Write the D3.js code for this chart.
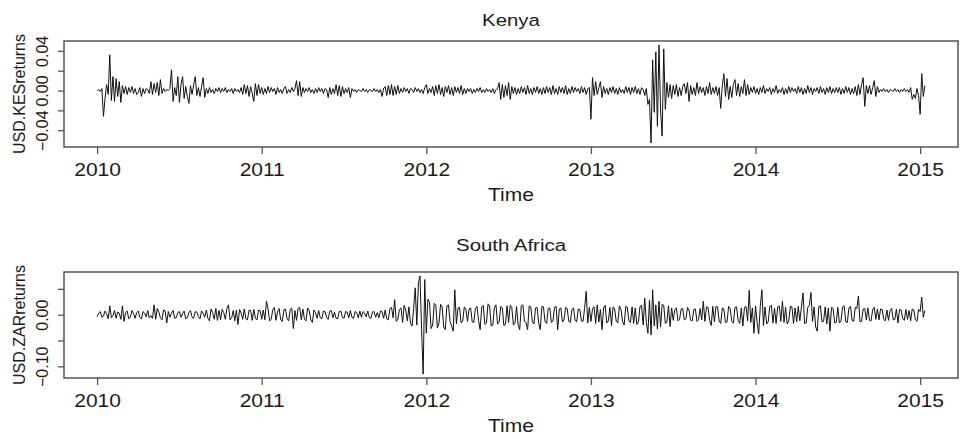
<!DOCTYPE html>
<html>
<head>
<meta charset="utf-8">
<script src="https://cdn.jsdelivr.net/npm/d3@7"></script>
<style>
  body { margin: 0; background: #fff; }
  svg { display: block; }
  text { font-family: "Liberation Sans", Arial, Helvetica, sans-serif; fill: #1a1a1a; }
</style>
</head>
<body>
<svg id="chart" width="968" height="439"></svg>
<script>
// time series: start 2010, 104 observations per year
const startYear = 2010;
const frequency = 104;

const yearTicks = [2010, 2011, 2012, 2013, 2014, 2015];
const yearLabels = ["2010", "2011", "2012", "2013", "2014", "2015"];

// returns, in thousandths (0.001)
const kenyaReturns = [
  0, 1, -1, 2, -26, -8, 6, -4, 36, -10, 14, -11, 12, -6, 9, -12, 5, -3, 4, -4, 3, -2, 4, -3, 2, -4,
  -2, 3, -6, 2, -3, 2, 1, -3, 9, -4, 7, -2, 8, -5, 11, -3, 2, -1, 1, 0, 2, 21, -11, 3, -5, 14,
  -12, 6, 14, -8, 4, -6, -13, 5, -4, 6, 14, -5, 3, -6, 4, 13, -7, 2, -3, 3, -2, 1, -3, 2, -1, 3,
  -2, 2, -1, 3, -2, 1, -1, 2, -3, 2, -1, 1, -2, 3, -4, 6, -3, 5, -6, 4, -3, -11, 7, -5, 6, -3,
  3, -4, 2, -3, 4, -2, 3, -1, 2, -4, 3, -2, 1, -3, 2, 4, -3, 1, -2, 3, -1, 2, 10, -5, 9, -6,
  3, -2, 2, -1, 3, -2, 1, -3, 2, -2, 3, -1, 2, -3, 2, 1, -7, 3, -4, 2, -3, 6, -5, 5, -6, 4,
  -3, 2, -2, 3, -7, 2, -1, 1, -2, 1, 0, -1, 2, -1, 1, -2, 1, 0, -1, 2, -1, 1, -2, 1, -6, 2,
  4, -5, 5, -4, 6, -5, 4, -4, 5, -3, 2, -2, 3, -1, 2, -3, 2, 1, -2, 3, -1, 2, -2, 1, -3, 3,
  6, -3, 2, -2, 4, -5, 5, -3, 6, -4, 3, -6, 4, -2, 5, -4, 3, -5, 4, -2, 3, -3, 5, -4, 2, -3,
  2, -1, 2, -3, 1, -2, 2, -1, 3, -2, 1, -2, 2, -1, 1, -2, 2, -3, 1, 2, 8, -9, 6, -7, 5, -5,
  8, -9, 4, -3, 3, -4, 2, -3, 4, -2, 3, -4, 5, -3, 2, -4, 3, -2, 4, -3, 2, -4, 3, -3, 4, -2,
  3, -4, 5, -3, 2, -4, 4, -2, 3, -3, 5, -4, 2, -3, 4, -2, 3, -1, 2, -3, 4, -2, 3, -4, 2, 3,
  -29, 13, -5, 9, -4, 3, 9, -7, 4, -3, 2, -4, 3, -2, 4, -3, 2, -4, 3, -2, 1, -3, 4, -2, 3, -4,
  3, -2, 4, -3, 2, -4, 3, 1, -5, 2, -14, -9, -53, 31, -22, 39, -36, 46, -20, -46, 42, -19, 8, -7, 6, -8,
  5, -4, 6, -6, 3, -5, 4, 7, -3, 8, -11, 5, -4, 3, -5, 8, -3, 4, -2, 3, -5, 4, -3, 8, -4, 3,
  -3, 4, -5, 3, -18, 5, 17, -6, 12, -9, 4, -7, 6, 11, -5, 7, -6, 4, -3, 11, -5, 6, -4, 3, -2, 4,
  -3, 2, -4, 3, -2, 5, -3, 2, -1, 3, -4, 2, -2, 5, -3, 1, -2, 3, -4, 2, -3, 4, -2, 3, -1, 2,
  -3, 4, -2, 3, -4, 2, -3, 5, -2, 3, -4, 2, -1, 3, -3, 4, -2, 2, -4, 3, -2, 4, -3, 2, -2, 3,
  -2, 3, -4, 2, -3, 4, -2, 3, -4, 2, -3, 4, -5, 6, -4, 6, 13, -16, 5, -3, 5, -4, 3, 10, -6, 4,
  -2, 1, -1, 2, -1, 1, -2, 1, 0, -1, 2, -1, 1, -2, 1, -1, 2, -1, 1, -2, 3, -9, -4, -8, 2, -5,
  -24, 17, -6, 5
];

const zarReturns = [
  -4, 3, 6, -5, -3, 7, 2, -8, 17, -6, -2, 8, -7, 5, 3, -9, 17, -13, 4, 7, -8, -5, 8, 2, -7, 4,
  7, -5, -8, 6, 3, -4, 8, -6, -2, -7, 19, -9, 12, 5, -6, -10, 9, 7, -16, 6, -5, 3, 8, -7, -6, 4,
  6, -5, 2, 7, -8, -6, 4, 8, -5, -7, 6, 5, -4, -8, 7, 3, -5, 9, -7, -12, 11, 4, -9, 12, -11, 8,
  -10, 10, 4, -9, 12, 19, -10, -6, 8, -12, 9, -19, 10, 3, -9, 11, -8, -10, 9, 8, -11, 10, -7, -10, 9, 8,
  -9, 9, -10, 26, 11, -12, -9, 10, 14, -11, 5, 12, -10, -13, 9, 11, -8, -12, 10, 13, -27, 8, -11, 12, 14, -10,
  11, -9, -12, 13, 8, -10, -15, 9, 4, -7, 8, -6, -8, 7, 6, -5, -9, 7, 8, -6, 5, -7, -8, 6, 7, -5,
  -7, 6, 5, -6, 8, -5, -7, 6, 4, -6, 7, -5, 6, 3, -4, 7, -6, -7, 5, 6, -5, 4, -6, 7, 6, -7,
  9, -8, -10, 12, 14, -6, 29, -13, -9, 10, 13, -15, 18, 9, -12, 15, -16, -22, 12, 52, -20, 61, 75, -28, -115, 68,
  -36, 30, 24, -27, -20, 22, 18, -26, -16, 20, 15, -24, -29, 17, 19, -14, -22, -32, 48, -18, 13, 14, -16, -12, 15, 10,
  -13, 11, 13, -14, -15, 12, 16, -11, -29, 15, 18, -19, -16, 21, 17, -22, -20, 14, 19, -18, -15, 16, 13, -21, -19, 17,
  -15, 18, 14, -20, -17, 16, -19, -29, 17, 19, -13, -15, -29, 17, 15, -14, -18, 13, 14, -16, -29, 16, 15, -13, -17, 12,
  13, -15, -12, 14, 16, -29, 11, 13, -14, -10, 14, 12, -13, -15, 10, 13, -11, -14, 11, 10, -12, -13, 12, 45, -16, 14,
  -13, 11, 15, -17, 19, -14, 10, -29, 13, 18, -16, -12, 14, -21, 15, 11, -13, -16, 17, 10, -14, -20, 16, 14, -12, -15,
  15, -17, 13, -19, -14, 16, 18, -20, 32, -15, -36, 28, -39, 48, -22, 19, -28, 26, -24, 20, 18, -17, -15, 17, -23, 13,
  -11, 10, 13, -12, -9, 11, 12, -10, -8, 14, 9, -11, -12, 10, 11, -13, -9, 12, -10, 26, -13, 15, 14, -11, -21, 16,
  -14, 16, 15, -12, -17, 13, 11, -15, -14, 16, 12, -13, -16, 14, 15, -11, -17, 13, -22, 14, 16, -12, 47, -15, 13, -36,
  17, -15, -37, 16, 48, -21, 15, -18, -14, 16, 18, -16, 13, -17, 15, 17, -13, 26, -15, 14, -18, -12, 16, 15, -17, 13,
  -14, 16, -12, 15, 42, -17, -16, 14, 18, 43, -13, 15, -24, -32, 16, 17, -14, -13, 15, -18, 13, -32, 14, 12, -16, -15,
  14, -16, -12, 15, 17, -14, -15, 13, 16, -11, -13, 14, 12, 36, -14, -13, 11, 12, -10, 13, -11, -12, 10, 14, -9, 11,
  -10, 11, 10, -9, -12, 9, -11, 8, 12, -10, -9, 11, -16, 10, 9, -8, -11, 10, -9, 8, -12, 11, 9, -10, -13, 10,
  6, 34, -5, 8
];

const kenyaTicks = [-0.04, -0.02, 0, 0.02, 0.04];
const kenyaTickLabels = ["\u22120.04", "", "0.00", "", "0.04"];
const zarTicks = [-0.10, -0.05, 0, 0.05];
const zarTickLabels = ["\u22120.10", "", "0.00", ""];

const svg = d3.select("#chart");
const left = 64;
const right = 958;
const frameColor = "#555";
const stretch = 1.2; // horizontal text looks wider than plain Arial

function drawPanel(p) {
  const values = p.values.map(v => v / 1000);
  const times = values.map((v, i) => startYear + i / frequency);

  // R style: 4% padding on both axes
  const tExt = d3.extent(times);
  const tPad = (tExt[1] - tExt[0]) * 0.04;
  const x = d3.scaleLinear()
    .domain([tExt[0] - tPad, tExt[1] + tPad])
    .range([left, right]);

  const vExt = d3.extent(values);
  const vPad = (vExt[1] - vExt[0]) * 0.04;
  const y = d3.scaleLinear()
    .domain([vExt[0] - vPad, vExt[1] + vPad])
    .range([p.bottom, p.top]);

  const line = d3.line()
    .x((d, i) => x(times[i]))
    .y(d => y(d));

  svg.append("path")
    .datum(values)
    .attr("fill", "none")
    .attr("stroke", "#111")
    .attr("stroke-width", 1)
    .attr("stroke-linejoin", "round")
    .attr("d", line);

  // x axis
  const gx = svg.append("g")
    .attr("transform", "translate(0," + p.bottom + ")")
    .call(d3.axisBottom(x)
      .tickValues(yearTicks)
      .tickSize(7)
      .tickFormat((d, i) => yearLabels[i]));
  gx.select(".domain").remove();
  gx.selectAll(".tick line").attr("stroke", frameColor).attr("stroke-width", 1.3);
  gx.selectAll(".tick text")
    .attr("y", 0)
    .attr("dy", 0)
    .attr("transform", "translate(0," + 29 + ") scale(" + stretch + ",1)")
    .attr("font-size", 17.5)
    .attr("fill", "#1a1a1a");

  // y axis
  const gy = svg.append("g")
    .attr("transform", "translate(" + left + ",0)")
    .call(d3.axisLeft(y)
      .tickValues(p.ticks)
      .tickSize(6)
      .tickFormat((d, i) => p.tickLabels[i]));
  gy.select(".domain").remove();
  gy.selectAll(".tick line").attr("stroke", frameColor).attr("stroke-width", 1.3);
  gy.selectAll(".tick text")
    .attr("transform", "rotate(-90)")
    .attr("x", 0)
    .attr("y", -16)
    .attr("dy", 0)
    .attr("text-anchor", "middle")
    .attr("font-size", 16)
    .attr("fill", "#1a1a1a");

  // frame
  svg.append("rect")
    .attr("x", left)
    .attr("y", p.top)
    .attr("width", right - left)
    .attr("height", p.bottom - p.top)
    .attr("fill", "none")
    .attr("stroke", frameColor)
    .attr("stroke-width", 1.5);

  const cx = (left + right) / 2;

  svg.append("text")
    .attr("transform", "translate(" + cx + "," + p.titleY + ") scale(" + stretch + ",1)")
    .attr("text-anchor", "middle")
    .attr("font-size", 17)
    .text(p.title);

  svg.append("text")
    .attr("transform", "translate(" + cx + "," + (p.bottom + 54) + ") scale(" + stretch + ",1)")
    .attr("text-anchor", "middle")
    .attr("font-size", 17.5)
    .text("Time");

  svg.append("text")
    .attr("transform", "translate(25," + (p.top + p.bottom) / 2 + ") rotate(-90)")
    .attr("text-anchor", "middle")
    .attr("font-size", 16)
    .text(p.ylab);
}

drawPanel({
  values: kenyaReturns, top: 41, bottom: 147, titleY: 26,
  ticks: kenyaTicks, tickLabels: kenyaTickLabels,
  title: "Kenya", ylab: "USD.KESreturns"
});

drawPanel({
  values: zarReturns, top: 272, bottom: 378, titleY: 251,
  ticks: zarTicks, tickLabels: zarTickLabels,
  title: "South Africa", ylab: "USD.ZARreturns"
});
</script>
</body>
</html>
